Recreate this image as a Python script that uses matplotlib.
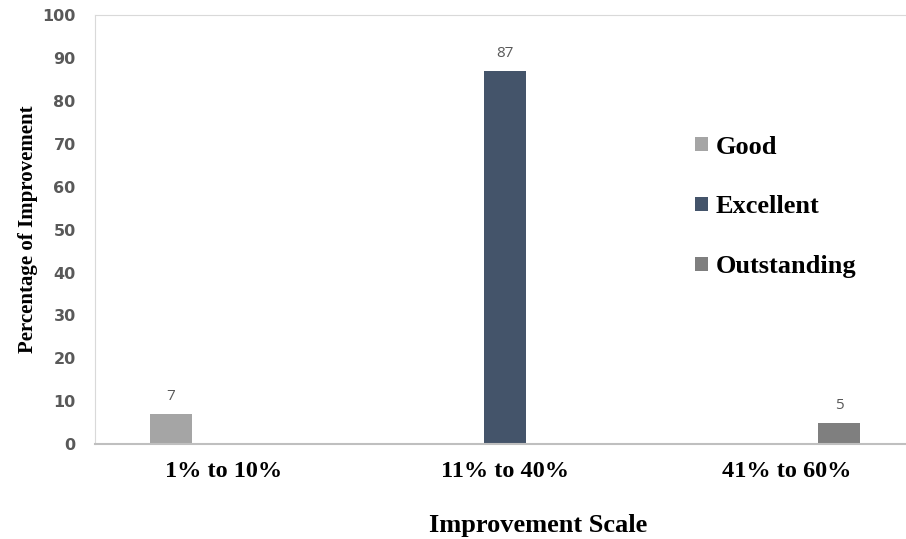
import matplotlib.pyplot as plt
import numpy as np

CATEGORIES = ["1% to 10%", "11% to 40%", "41% to 60%"]
SERIES = ["Good", "Excellent", "Outstanding"]
GOOD = [7, 0, 0]
EXCELLENT = [0, 87, 0]
OUTSTANDING = [0, 0, 5]
COLORS = ["#A5A5A5", "#44546A", "#7F7F7F"]

SERIF = ["Liberation Serif", "DejaVu Serif"]


def main():
    fig = plt.figure(figsize=(9.06, 5.39), dpi=100)
    ax = fig.add_axes([0.105, 0.176, 0.895, 0.796])

    x = np.arange(len(CATEGORIES))
    offset = 0.185
    width = 0.15
    for i, (name, vals, color) in enumerate(zip(SERIES, [GOOD, EXCELLENT, OUTSTANDING], COLORS)):
        bars = ax.bar(x + (i - 1) * offset, vals, width, color=color, label=name)
        labels = [str(v) if v else "" for v in vals]
        ax.bar_label(bars, labels=labels, padding=7, fontsize=11,
                     color="#595959", family="Open Sans")

    ax.set_xlim(-0.454, 2.422)
    ax.set_ylim(0, 100)
    ax.set_yticks(np.arange(0, 101, 10))
    ax.set_xticks(x)
    ax.set_xticklabels(CATEGORIES, family=SERIF, fontsize=17.5, fontweight="bold")
    for lbl in ax.get_yticklabels():
        lbl.set_fontweight("bold")
        lbl.set_color("#595959")
        lbl.set_fontsize(11.5)
    ax.tick_params(axis="both", length=0)
    ax.tick_params(axis="x", pad=12)
    ax.tick_params(axis="y", pad=14)

    ax.spines["right"].set_visible(False)
    ax.spines["top"].set_color("#D9D9D9")
    ax.spines["left"].set_color("#D9D9D9")
    ax.spines["bottom"].set_color("#BFBFBF")
    ax.spines["bottom"].set_linewidth(1.5)

    ax.set_xlabel("Improvement Scale", family=SERIF, fontsize=19,
                  fontweight="bold")
    ax.xaxis.set_label_coords(0.546, -0.163)
    ax.set_ylabel("Percentage of Improvement", family=SERIF, fontsize=15,
                  fontweight="bold", labelpad=3)

    ax.legend(loc="center left", bbox_to_anchor=(695 / 906, 1 - 207 / 539),
              bbox_transform=fig.transFigure, frameon=False,
              prop={"family": SERIF, "size": 19, "weight": "bold"},
              labelspacing=1.4, handlelength=0.49, handleheight=0.45,
              handletextpad=0.3, borderpad=0, borderaxespad=0)

    fig.savefig("out.png", dpi=100)


if __name__ == "__main__":
    main()
